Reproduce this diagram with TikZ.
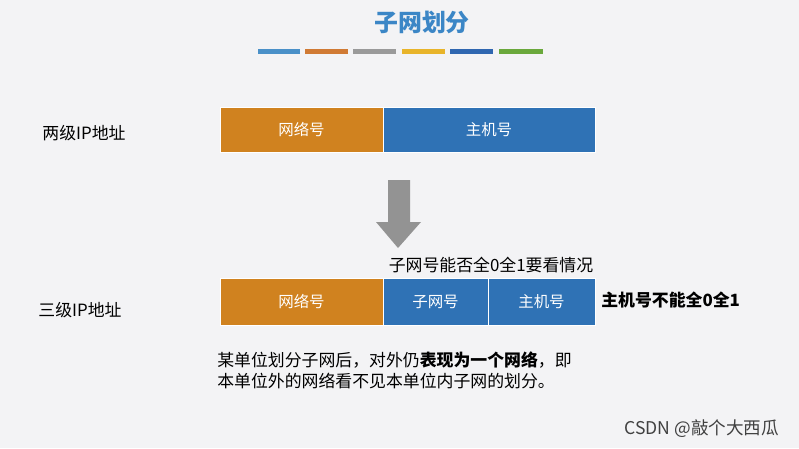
\documentclass[tikz,border=0pt]{standalone}
\usepackage{fontspec}
\setmainfont{Noto Sans CJK SC}
\usepackage{tikz}
\usetikzlibrary{positioning}
\definecolor{netorange}{HTML}{D0821F}
\definecolor{hostblue}{HTML}{2F72B5}
\definecolor{titleblue}{HTML}{3B86C6}
\definecolor{bggray}{HTML}{F3F3F5}
\tikzset{
  seg/.style={draw=white, line width=0.4pt, font=\fontsize{11pt}{13pt}\selectfont, text=white, inner sep=0pt},
  lbl/.style={font=\fontsize{12pt}{14pt}\selectfont, inner sep=0pt}
}
\begin{document}
\begin{tikzpicture}[x=0.025cm,y=-0.025cm]
  \fill[bggray] (0,0) rectangle (799,448);
  \useasboundingbox (0,0) rectangle (799,448);
  % title and colour strip
  \node[font=\fontsize{17pt}{20pt}\selectfont\bfseries, text=titleblue] (title) at (422,22) {子网划分};
  \foreach \xa/\xb/\c in {258/300/4A90C8, 305/348/D07A34, 353/396/9A9A9A, 402/445/E8B42A, 450/493/2F66B0, 499/543/6AA83C}{
    \definecolor{stripc}{HTML}{\c}
    \fill[stripc] (\xa,49) rectangle (\xb,54);
  }
  % two-level address
  \node[lbl] (two) at (84,133) {两级IP地址};
  \path[seg, fill=netorange] (220,107) rectangle node (n1) {网络号} (383,152);
  \path[seg, fill=hostblue] (383,107) rectangle node (h1) {主机号} (595,152);
  % arrow
  \fill[gray!85] (388,180) -- (410,180) -- (410,222) -- (421,222) -- (398,248) -- (376,222) -- (388,222) -- cycle;
  \node[lbl] (note1) at (491,265) {子网号能否全0全1要看情况};
  % three-level address
  \node[lbl] (three) at (80,310) {三级IP地址};
  \path[seg, fill=netorange] (220,278) rectangle node (n2) {网络号} (383,325);
  \path[seg, fill=hostblue] (383,278) rectangle node (s2) {子网号} (488,325);
  \path[seg, fill=hostblue] (488,278) rectangle node (h2) {主机号} (595,325);
  \node[lbl, anchor=west, font=\fontsize{12pt}{14pt}\selectfont\bfseries] (note2) at (601,300) {主机号不能全0全1};
  % remark
  \node[lbl, anchor=west] (rem1) at (217,360) {某单位划分子网后，对外仍\textbf{表现为一个网络}，即};
  \node[lbl, anchor=west] (rem2) at (217,381) {本单位外的网络看不见本单位内子网的划分。};
  \node[font=\fontsize{12.5pt}{14pt}\selectfont, text=black!75, anchor=east] (mark) at (784,429) {CSDN @敲个大西瓜};
\end{tikzpicture}
\end{document}
